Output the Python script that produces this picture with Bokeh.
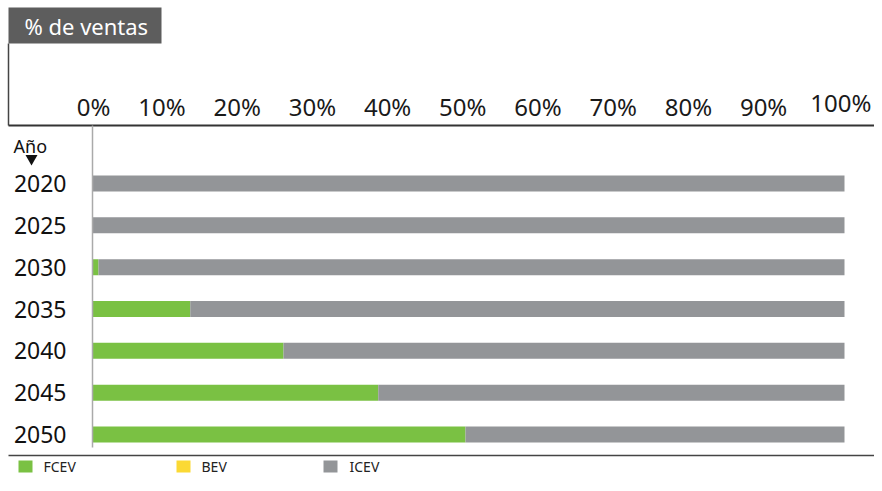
from bokeh.plotting import figure
from bokeh.models import Range1d
from bokeh.core.properties import value
from bokeh.embed import file_html
from bokeh.resources import INLINE

# ---- data ----
years = [2020, 2025, 2030, 2035, 2040, 2045, 2050]
year_labels = ["2020", "2025", "2030", "2035", "2040", "2045", "2050"]
fcev = [0.0, 0.0, 0.8, 13.0, 25.4, 38.0, 49.6]
bev = [0.0, 0.0, 0.0, 0.0, 0.0, 0.0, 0.0]
icev = [100.0, 100.0, 99.2, 87.0, 74.6, 62.0, 50.4]
ticks = [0, 10, 20, 30, 40, 50, 60, 70, 80, 90, 100]
tick_labels = ["0%", "10%", "20%", "30%", "40%", "50%", "60%", "70%", "80%", "90%", "100%"]
series = ["FCEV", "BEV", "ICEV"]
colors = ["#7ac143", "#fbd934", "#939598"]

# ---- layout (pixel geometry of the figure) ----
W, H = 874, 475
X0, X100 = 92, 844          # x pixel of 0% and 100%
Y_FIRST, Y_LAST = 183, 434  # y pixel of first and last year centres
PPX = (X100 - X0) / 100.0
PPY = (Y_LAST - Y_FIRST) / (years[-1] - years[0])

def X(px):
    return (px - X0) / PPX

def Y(py):
    return years[0] + (py - Y_FIRST) / PPY

p = figure(width=W, height=H, output_backend="svg", toolbar_location=None,
           x_range=Range1d(X(0), X(W)),
           y_range=Range1d(Y(H), Y(0)),
           min_border=0, outline_line_color=None)
p.axis.visible = False
p.grid.visible = False

FONT = value("Noto Sans")

# stacked bars
left_b = fcev
right_b = [f + b for f, b in zip(fcev, bev)]
right_i = [r + i for r, i in zip(right_b, icev)]
bh = 16 / PPY
p.hbar(y=years, left=0, right=fcev, height=bh, color=colors[0], line_color=None)
p.hbar(y=years, left=left_b, right=right_b, height=bh, color=colors[1], line_color=None)
p.hbar(y=years, left=right_b, right=right_i, height=bh, color=colors[2], line_color=None)

# title box
p.quad(left=X(8), right=X(161), top=Y(7), bottom=Y(43), color="#5d5d5d", line_color=None)
p.text(x=[X(24)], y=[Y(25)], text=["% de ventas"], text_color="white",
       text_font=FONT, text_font_size="22px", text_baseline="middle", text_align="left")

# frame lines
BOTTOM_LINE = 455
p.segment(x0=[X(8)], y0=[Y(43)], x1=[X(8)], y1=[Y(125)], line_color="#444444", line_width=1.5)
p.segment(x0=[X(8)], y0=[Y(125)], x1=[X(W)], y1=[Y(125)], line_color="#333333", line_width=2)
p.segment(x0=[0], y0=[Y(125)], x1=[0], y1=[Y(447)], line_color="#aaaaaa", line_width=1.5)
p.segment(x0=[X(8)], y0=[Y(BOTTOM_LINE)], x1=[X(W)], y1=[Y(BOTTOM_LINE)],
          line_color="#444444", line_width=1.5)

# tick labels (right-aligned just past each tick, last one a bit higher)
dx = [18] * (len(ticks) - 1) + [27]
dy = [0] * (len(ticks) - 1) + [-4]
p.text(x=ticks, y=[Y(106)] * len(ticks), text=tick_labels, x_offset=dx, y_offset=dy,
       text_color="#1a1a1a", text_font=FONT, text_font_size="24px",
       text_baseline="alphabetic", text_align="right")

# year labels
p.text(x=[X(66)] * len(years), y=years, text=year_labels, text_color="#111111",
       text_font=FONT, text_font_size="23px", text_baseline="middle", text_align="right")

# "Año" and arrow
p.text(x=[X(13)], y=[Y(145)], text=["Año"], text_color="#111111",
       text_font=FONT, text_font_size="18px", text_baseline="middle", text_align="left")
p.scatter(x=[X(31)], y=[Y(158)], marker="inverted_triangle", size=12,
          color="#111111", line_color=None)

# legend
leg_sq = [18, 176, 323]
leg_tx = [43, 201, 349]
leg_y = 466
p.rect(x=[X(s + 7) for s in leg_sq], y=[Y(leg_y)] * 3, width=14 / PPX, height=12 / PPY,
       color=colors, line_color=None)
p.text(x=[X(t) for t in leg_tx], y=[Y(leg_y)] * 3, text=series, text_color="#222222",
       text_font=FONT, text_font_size="14px", text_baseline="middle", text_align="left")

open("out.html", "w").write(file_html(p, INLINE))
